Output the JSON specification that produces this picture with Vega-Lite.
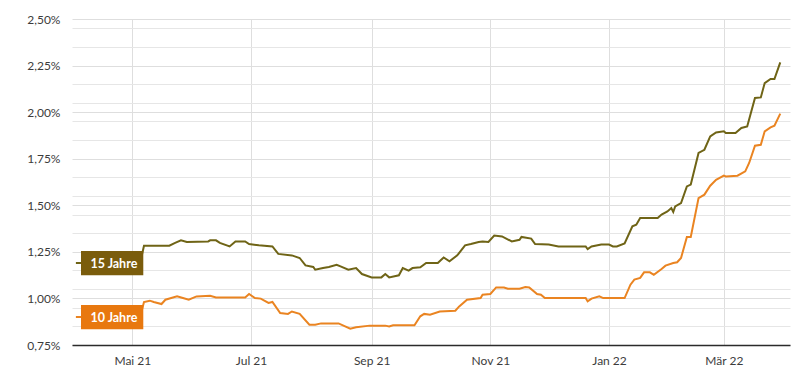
{
  "$schema": "https://vega.github.io/schema/vega-lite/v6.json",
  "width": 718,
  "height": 326,
  "autosize": {"type": "none"},
  "padding": {"left": 72, "top": 19, "right": 19, "bottom": 40},
  "background": "white",
  "datasets": {
    "rates": [
      {"d": "2021-04-02", "s": "15 Jahre", "v": 1.19},
      {"d": "2021-05-05", "s": "15 Jahre", "v": 1.19},
      {"d": "2021-05-07", "s": "15 Jahre", "v": 1.283},
      {"d": "2021-05-20", "s": "15 Jahre", "v": 1.283},
      {"d": "2021-05-23", "s": "15 Jahre", "v": 1.298},
      {"d": "2021-05-26", "s": "15 Jahre", "v": 1.312},
      {"d": "2021-05-29", "s": "15 Jahre", "v": 1.303},
      {"d": "2021-06-09", "s": "15 Jahre", "v": 1.306},
      {"d": "2021-06-10", "s": "15 Jahre", "v": 1.312},
      {"d": "2021-06-13", "s": "15 Jahre", "v": 1.312},
      {"d": "2021-06-15", "s": "15 Jahre", "v": 1.298},
      {"d": "2021-06-20", "s": "15 Jahre", "v": 1.279},
      {"d": "2021-06-23", "s": "15 Jahre", "v": 1.306},
      {"d": "2021-06-28", "s": "15 Jahre", "v": 1.306},
      {"d": "2021-06-30", "s": "15 Jahre", "v": 1.292},
      {"d": "2021-07-05", "s": "15 Jahre", "v": 1.285},
      {"d": "2021-07-12", "s": "15 Jahre", "v": 1.279},
      {"d": "2021-07-15", "s": "15 Jahre", "v": 1.239},
      {"d": "2021-07-22", "s": "15 Jahre", "v": 1.231},
      {"d": "2021-07-26", "s": "15 Jahre", "v": 1.217},
      {"d": "2021-07-29", "s": "15 Jahre", "v": 1.177},
      {"d": "2021-08-02", "s": "15 Jahre", "v": 1.169},
      {"d": "2021-08-03", "s": "15 Jahre", "v": 1.154},
      {"d": "2021-08-07", "s": "15 Jahre", "v": 1.163},
      {"d": "2021-08-10", "s": "15 Jahre", "v": 1.169},
      {"d": "2021-08-14", "s": "15 Jahre", "v": 1.181},
      {"d": "2021-08-16", "s": "15 Jahre", "v": 1.172},
      {"d": "2021-08-20", "s": "15 Jahre", "v": 1.154},
      {"d": "2021-08-24", "s": "15 Jahre", "v": 1.163},
      {"d": "2021-08-27", "s": "15 Jahre", "v": 1.131},
      {"d": "2021-09-01", "s": "15 Jahre", "v": 1.113},
      {"d": "2021-09-06", "s": "15 Jahre", "v": 1.113},
      {"d": "2021-09-08", "s": "15 Jahre", "v": 1.131},
      {"d": "2021-09-10", "s": "15 Jahre", "v": 1.113},
      {"d": "2021-09-15", "s": "15 Jahre", "v": 1.124},
      {"d": "2021-09-17", "s": "15 Jahre", "v": 1.163},
      {"d": "2021-09-20", "s": "15 Jahre", "v": 1.149},
      {"d": "2021-09-22", "s": "15 Jahre", "v": 1.163},
      {"d": "2021-09-26", "s": "15 Jahre", "v": 1.167},
      {"d": "2021-09-29", "s": "15 Jahre", "v": 1.19},
      {"d": "2021-10-05", "s": "15 Jahre", "v": 1.19},
      {"d": "2021-10-08", "s": "15 Jahre", "v": 1.22},
      {"d": "2021-10-11", "s": "15 Jahre", "v": 1.199},
      {"d": "2021-10-15", "s": "15 Jahre", "v": 1.231},
      {"d": "2021-10-19", "s": "15 Jahre", "v": 1.285},
      {"d": "2021-10-22", "s": "15 Jahre", "v": 1.292},
      {"d": "2021-10-26", "s": "15 Jahre", "v": 1.303},
      {"d": "2021-10-28", "s": "15 Jahre", "v": 1.306},
      {"d": "2021-10-31", "s": "15 Jahre", "v": 1.303},
      {"d": "2021-11-03", "s": "15 Jahre", "v": 1.338},
      {"d": "2021-11-07", "s": "15 Jahre", "v": 1.333},
      {"d": "2021-11-12", "s": "15 Jahre", "v": 1.306},
      {"d": "2021-11-16", "s": "15 Jahre", "v": 1.315},
      {"d": "2021-11-17", "s": "15 Jahre", "v": 1.33},
      {"d": "2021-11-22", "s": "15 Jahre", "v": 1.321},
      {"d": "2021-11-24", "s": "15 Jahre", "v": 1.292},
      {"d": "2021-12-01", "s": "15 Jahre", "v": 1.289},
      {"d": "2021-12-06", "s": "15 Jahre", "v": 1.279},
      {"d": "2021-12-20", "s": "15 Jahre", "v": 1.279},
      {"d": "2021-12-21", "s": "15 Jahre", "v": 1.265},
      {"d": "2021-12-23", "s": "15 Jahre", "v": 1.279},
      {"d": "2021-12-28", "s": "15 Jahre", "v": 1.289},
      {"d": "2022-01-01", "s": "15 Jahre", "v": 1.289},
      {"d": "2022-01-03", "s": "15 Jahre", "v": 1.279},
      {"d": "2022-01-05", "s": "15 Jahre", "v": 1.279},
      {"d": "2022-01-09", "s": "15 Jahre", "v": 1.295},
      {"d": "2022-01-13", "s": "15 Jahre", "v": 1.387},
      {"d": "2022-01-15", "s": "15 Jahre", "v": 1.396},
      {"d": "2022-01-17", "s": "15 Jahre", "v": 1.432},
      {"d": "2022-01-26", "s": "15 Jahre", "v": 1.432},
      {"d": "2022-01-28", "s": "15 Jahre", "v": 1.45},
      {"d": "2022-01-31", "s": "15 Jahre", "v": 1.467},
      {"d": "2022-02-02", "s": "15 Jahre", "v": 1.485},
      {"d": "2022-02-03", "s": "15 Jahre", "v": 1.464},
      {"d": "2022-02-04", "s": "15 Jahre", "v": 1.494},
      {"d": "2022-02-07", "s": "15 Jahre", "v": 1.512},
      {"d": "2022-02-10", "s": "15 Jahre", "v": 1.601},
      {"d": "2022-02-12", "s": "15 Jahre", "v": 1.611},
      {"d": "2022-02-16", "s": "15 Jahre", "v": 1.781},
      {"d": "2022-02-19", "s": "15 Jahre", "v": 1.798},
      {"d": "2022-02-22", "s": "15 Jahre", "v": 1.87},
      {"d": "2022-02-25", "s": "15 Jahre", "v": 1.891},
      {"d": "2022-03-01", "s": "15 Jahre", "v": 1.897},
      {"d": "2022-03-02", "s": "15 Jahre", "v": 1.888},
      {"d": "2022-03-07", "s": "15 Jahre", "v": 1.888},
      {"d": "2022-03-10", "s": "15 Jahre", "v": 1.915},
      {"d": "2022-03-13", "s": "15 Jahre", "v": 1.923},
      {"d": "2022-03-17", "s": "15 Jahre", "v": 2.076},
      {"d": "2022-03-20", "s": "15 Jahre", "v": 2.079},
      {"d": "2022-03-22", "s": "15 Jahre", "v": 2.156},
      {"d": "2022-03-25", "s": "15 Jahre", "v": 2.178},
      {"d": "2022-03-27", "s": "15 Jahre", "v": 2.178},
      {"d": "2022-03-30", "s": "15 Jahre", "v": 2.267},

      {"d": "2021-04-02", "s": "10 Jahre", "v": 0.9},
      {"d": "2021-05-05", "s": "10 Jahre", "v": 0.9},
      {"d": "2021-05-07", "s": "10 Jahre", "v": 0.981},
      {"d": "2021-05-10", "s": "10 Jahre", "v": 0.988},
      {"d": "2021-05-12", "s": "10 Jahre", "v": 0.981},
      {"d": "2021-05-16", "s": "10 Jahre", "v": 0.97},
      {"d": "2021-05-18", "s": "10 Jahre", "v": 0.993},
      {"d": "2021-05-24", "s": "10 Jahre", "v": 1.011},
      {"d": "2021-05-27", "s": "10 Jahre", "v": 1.002},
      {"d": "2021-05-30", "s": "10 Jahre", "v": 0.993},
      {"d": "2021-06-03", "s": "10 Jahre", "v": 1.011},
      {"d": "2021-06-10", "s": "10 Jahre", "v": 1.014},
      {"d": "2021-06-13", "s": "10 Jahre", "v": 1.005},
      {"d": "2021-06-28", "s": "10 Jahre", "v": 1.005},
      {"d": "2021-06-30", "s": "10 Jahre", "v": 1.024},
      {"d": "2021-07-03", "s": "10 Jahre", "v": 1.002},
      {"d": "2021-07-06", "s": "10 Jahre", "v": 0.999},
      {"d": "2021-07-10", "s": "10 Jahre", "v": 0.976},
      {"d": "2021-07-12", "s": "10 Jahre", "v": 0.981},
      {"d": "2021-07-16", "s": "10 Jahre", "v": 0.922},
      {"d": "2021-07-20", "s": "10 Jahre", "v": 0.917},
      {"d": "2021-07-22", "s": "10 Jahre", "v": 0.93},
      {"d": "2021-07-26", "s": "10 Jahre", "v": 0.917},
      {"d": "2021-07-31", "s": "10 Jahre", "v": 0.859},
      {"d": "2021-08-03", "s": "10 Jahre", "v": 0.859},
      {"d": "2021-08-06", "s": "10 Jahre", "v": 0.866},
      {"d": "2021-08-15", "s": "10 Jahre", "v": 0.866},
      {"d": "2021-08-21", "s": "10 Jahre", "v": 0.838},
      {"d": "2021-08-24", "s": "10 Jahre", "v": 0.845},
      {"d": "2021-08-31", "s": "10 Jahre", "v": 0.854},
      {"d": "2021-09-08", "s": "10 Jahre", "v": 0.854},
      {"d": "2021-09-10", "s": "10 Jahre", "v": 0.849},
      {"d": "2021-09-12", "s": "10 Jahre", "v": 0.856},
      {"d": "2021-09-23", "s": "10 Jahre", "v": 0.856},
      {"d": "2021-09-26", "s": "10 Jahre", "v": 0.904},
      {"d": "2021-09-28", "s": "10 Jahre", "v": 0.917},
      {"d": "2021-10-01", "s": "10 Jahre", "v": 0.913},
      {"d": "2021-10-06", "s": "10 Jahre", "v": 0.93},
      {"d": "2021-10-14", "s": "10 Jahre", "v": 0.934},
      {"d": "2021-10-16", "s": "10 Jahre", "v": 0.957},
      {"d": "2021-10-20", "s": "10 Jahre", "v": 0.993},
      {"d": "2021-10-27", "s": "10 Jahre", "v": 1.002},
      {"d": "2021-10-28", "s": "10 Jahre", "v": 1.02},
      {"d": "2021-11-01", "s": "10 Jahre", "v": 1.024},
      {"d": "2021-11-04", "s": "10 Jahre", "v": 1.059},
      {"d": "2021-11-08", "s": "10 Jahre", "v": 1.059},
      {"d": "2021-11-10", "s": "10 Jahre", "v": 1.052},
      {"d": "2021-11-16", "s": "10 Jahre", "v": 1.052},
      {"d": "2021-11-19", "s": "10 Jahre", "v": 1.061},
      {"d": "2021-11-21", "s": "10 Jahre", "v": 1.059},
      {"d": "2021-11-25", "s": "10 Jahre", "v": 1.024},
      {"d": "2021-11-27", "s": "10 Jahre", "v": 1.02},
      {"d": "2021-11-29", "s": "10 Jahre", "v": 1.002},
      {"d": "2021-12-20", "s": "10 Jahre", "v": 1.002},
      {"d": "2021-12-21", "s": "10 Jahre", "v": 0.984},
      {"d": "2021-12-23", "s": "10 Jahre", "v": 0.999},
      {"d": "2021-12-27", "s": "10 Jahre", "v": 1.011},
      {"d": "2021-12-29", "s": "10 Jahre", "v": 1.002},
      {"d": "2022-01-09", "s": "10 Jahre", "v": 1.002},
      {"d": "2022-01-12", "s": "10 Jahre", "v": 1.074},
      {"d": "2022-01-14", "s": "10 Jahre", "v": 1.101},
      {"d": "2022-01-17", "s": "10 Jahre", "v": 1.11},
      {"d": "2022-01-19", "s": "10 Jahre", "v": 1.14},
      {"d": "2022-01-22", "s": "10 Jahre", "v": 1.14},
      {"d": "2022-01-24", "s": "10 Jahre", "v": 1.127},
      {"d": "2022-01-28", "s": "10 Jahre", "v": 1.158},
      {"d": "2022-01-30", "s": "10 Jahre", "v": 1.176},
      {"d": "2022-02-03", "s": "10 Jahre", "v": 1.19},
      {"d": "2022-02-05", "s": "10 Jahre", "v": 1.194},
      {"d": "2022-02-07", "s": "10 Jahre", "v": 1.217},
      {"d": "2022-02-10", "s": "10 Jahre", "v": 1.33},
      {"d": "2022-02-12", "s": "10 Jahre", "v": 1.33},
      {"d": "2022-02-16", "s": "10 Jahre", "v": 1.539},
      {"d": "2022-02-19", "s": "10 Jahre", "v": 1.557},
      {"d": "2022-02-22", "s": "10 Jahre", "v": 1.605},
      {"d": "2022-02-25", "s": "10 Jahre", "v": 1.637},
      {"d": "2022-03-01", "s": "10 Jahre", "v": 1.659},
      {"d": "2022-03-02", "s": "10 Jahre", "v": 1.655},
      {"d": "2022-03-08", "s": "10 Jahre", "v": 1.659},
      {"d": "2022-03-12", "s": "10 Jahre", "v": 1.682},
      {"d": "2022-03-14", "s": "10 Jahre", "v": 1.727},
      {"d": "2022-03-17", "s": "10 Jahre", "v": 1.82},
      {"d": "2022-03-20", "s": "10 Jahre", "v": 1.825},
      {"d": "2022-03-22", "s": "10 Jahre", "v": 1.897},
      {"d": "2022-03-25", "s": "10 Jahre", "v": 1.918},
      {"d": "2022-03-27", "s": "10 Jahre", "v": 1.927},
      {"d": "2022-03-30", "s": "10 Jahre", "v": 1.992}
    ]
  },
  "data": {"name": "rates"},
  "config": {
    "view": {"stroke": null},
    "axis": {
      "labelFont": "Lato",
      "labelFontSize": 12,
      "labelColor": "#3c3c3c",
      "gridColor": "#dedede",
      "gridWidth": 1,
      "ticks": false,
      "title": null
    }
  },
  "resolve": {"axis": {"y": "independent"}, "scale": {"color": "independent"}},
  "layer": [
    {
      "mark": {"type": "line", "strokeWidth": 2, "interpolate": "linear"},
      "encoding": {
        "x": {
          "field": "d",
          "type": "temporal",
          "scale": {"domain": [{"year": 2021, "month": 3, "date": 31}, {"year": 2022, "month": 4, "date": 4}]},
          "axis": {
            "values": [
              {"year": 2021, "month": 5, "date": 1},
              {"year": 2021, "month": 7, "date": 1},
              {"year": 2021, "month": 9, "date": 1},
              {"year": 2021, "month": 11, "date": 1},
              {"year": 2022, "month": 1, "date": 1},
              {"year": 2022, "month": 3, "date": 1}
            ],
            "labelExpr": "['Jan','Feb','Mär','Apr','Mai','Jun','Jul','Aug','Sep','Okt','Nov','Dez'][month(datum.value)] + ' ' + timeFormat(datum.value, '%y')",
            "grid": true,
            "domain": true,
            "domainColor": "#2b2b2b",
            "domainWidth": 1.5,
            "labelPadding": 10,
            "labelFlush": false
          }
        },
        "y": {
          "field": "v",
          "type": "quantitative",
          "scale": {"domain": [0.75, 2.5], "nice": false, "zero": false},
          "axis": {
            "orient": "right",
            "values": [0.85, 0.95, 1.05, 1.15, 1.35, 1.45, 1.55, 1.65, 1.85, 1.95, 2.05, 2.15, 2.35, 2.45],
            "grid": true,
            "gridColor": "#e6e6e6",
            "labels": false,
            "domain": false,
            "ticks": false
          }
        },
        "color": {
          "field": "s",
          "type": "nominal",
          "scale": {"domain": ["15 Jahre", "10 Jahre"], "range": ["#6f6416", "#ea8421"]},
          "legend": null
        }
      }
    },
    {
      "transform": [
        {"window": [{"op": "row_number", "as": "rn"}], "groupby": ["s"], "sort": [{"field": "d", "order": "ascending"}]},
        {"filter": "datum.rn === 1"}
      ],
      "mark": {
        "type": "point",
        "shape": "M0.165,-0.392H2.174V0.392H0.165Z",
        "filled": true,
        "opacity": 1,
        "size": 3844,
        "strokeWidth": 0
      },
      "encoding": {
        "x": {"field": "d", "type": "temporal"},
        "y": {
          "field": "v",
          "type": "quantitative",
          "axis": {
            "values": [0.75, 1.0, 1.25, 1.5, 1.75, 2.0, 2.25, 2.5],
            "grid": true,
            "domain": false,
            "labelPadding": 12,
            "labelExpr": "replace(format(datum.value, '.2f'), '.', ',') + '%'"
          }
        },
        "color": {
          "field": "s",
          "type": "nominal",
          "scale": {"domain": ["15 Jahre", "10 Jahre"], "range": ["#7a5c0c", "#e8780f"]},
          "legend": null
        }
      }
    },
    {
      "transform": [
        {"window": [{"op": "row_number", "as": "rn"}], "groupby": ["s"], "sort": [{"field": "d", "order": "ascending"}]},
        {"filter": "datum.rn === 1"}
      ],
      "mark": {
        "type": "text",
        "dx": 38,
        "dy": 1,
        "color": "white",
        "font": "Lato",
        "fontWeight": "bold",
        "fontSize": 12.5,
        "align": "center",
        "baseline": "middle"
      },
      "encoding": {
        "x": {"field": "d", "type": "temporal"},
        "y": {"field": "v", "type": "quantitative", "axis": null},
        "text": {"field": "s"}
      }
    }
  ]
}
